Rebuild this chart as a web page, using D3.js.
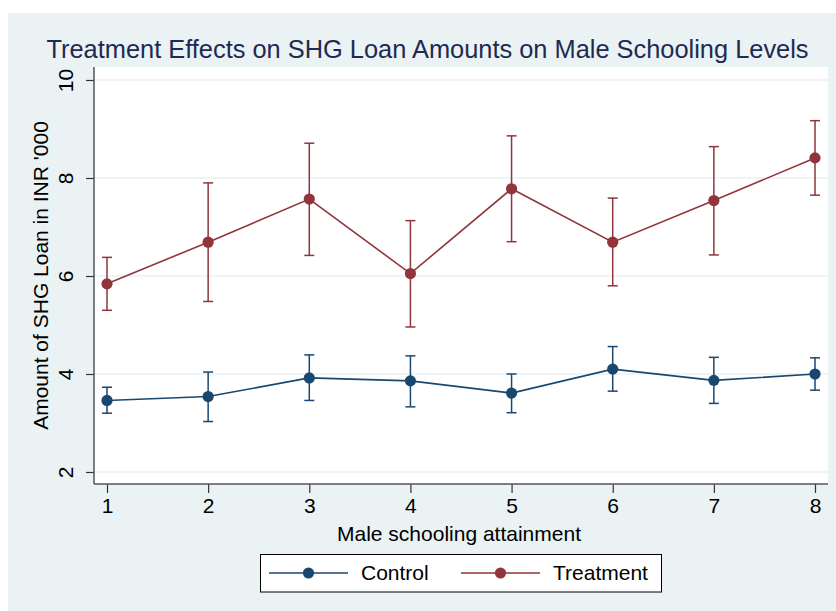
<!DOCTYPE html>
<html><head><meta charset="utf-8">
<script src="https://cdn.jsdelivr.net/npm/d3@7"></script>
<style>
html,body{margin:0;padding:0;background:#fff;}
svg text{font-family:"Liberation Sans",Arial,sans-serif;}
</style></head>
<body>
<svg id="chart" width="836" height="611"></svg>
<script>
const schooling = [1,2,3,4,5,6,7,8];
const controlMean = [3.46,3.54,3.92,3.86,3.61,4.10,3.87,4.00];
const controlLow  = [3.20,3.03,3.46,3.33,3.21,3.65,3.40,3.67];
const controlHigh = [3.73,4.04,4.39,4.37,4.00,4.56,4.34,4.33];
const treatMean = [5.84,6.69,7.57,6.05,7.78,6.69,7.54,8.41];
const treatLow  = [5.30,5.48,6.42,4.96,6.70,5.80,6.43,7.65];
const treatHigh = [6.38,7.90,8.71,7.13,8.86,7.59,8.64,9.17];
const yTicks = [2,4,6,8,10];
const seriesNames = ["Control","Treatment"];
const seriesColors = ["#1a476f","#90353b"];

const svg = d3.select("#chart");
// graph region background
svg.append("rect").attr("x",8).attr("y",13).attr("width",828).attr("height",598).attr("fill","#eaf2f3");
// plot region
const plot = {l:94, r:828, t:67, b:484};
svg.append("rect").attr("x",plot.l).attr("y",plot.t).attr("width",plot.r-plot.l).attr("height",plot.b-plot.t).attr("fill","#fff");

const x = d3.scaleLinear().domain([1,8]).range([107,815]);
const y = d3.scaleLinear().domain([2,10]).range([472,80]);

// grid
svg.append("g").selectAll("line").data(yTicks).join("line")
  .attr("x1",plot.l).attr("x2",plot.r).attr("y1",d=>y(d)).attr("y2",d=>y(d))
  .attr("stroke","#eaf2f3").attr("stroke-width",1.5);

// title
svg.append("text").attr("x",(45+810)/2).attr("y",58).attr("text-anchor","middle")
  .attr("font-size",25.4).attr("fill","#1e2a52")
  .text("Treatment Effects on SHG Loan Amounts on Male Schooling Levels");

// y axis
const yAxis = svg.append("g").attr("transform",`translate(${plot.l},0)`)
  .call(d3.axisLeft(y).tickValues(yTicks).tickSize(8).tickPadding(0).tickFormat(d3.format("d")));
yAxis.select(".domain").remove();
yAxis.selectAll(".tick line").attr("stroke","#333").attr("stroke-width",1.2);
yAxis.selectAll(".tick text").remove();
yAxis.selectAll(".tick").append("text")
  .attr("transform","translate(-21,0) rotate(-90)")
  .attr("text-anchor","middle").attr("dy",0).attr("fill","#000")
  .attr("font-size",21).text(d=>d);
svg.append("line").attr("x1",plot.l).attr("x2",plot.l).attr("y1",plot.t).attr("y2",plot.b)
  .attr("stroke","#555").attr("stroke-width",1.5);

// x axis
const xAxis = svg.append("g").attr("transform",`translate(0,${plot.b})`)
  .call(d3.axisBottom(x).tickValues(schooling).tickSize(9).tickPadding(5).tickFormat(d3.format("d")));
xAxis.select(".domain").remove();
xAxis.selectAll(".tick line").attr("stroke","#333").attr("stroke-width",1.2);
xAxis.selectAll(".tick text").attr("font-size",21).attr("fill","#000")
  .attr("font-family","Liberation Sans, Arial, sans-serif");
svg.append("line").attr("x1",plot.l).attr("x2",plot.r).attr("y1",plot.b).attr("y2",plot.b)
  .attr("stroke","#555").attr("stroke-width",1.5);

// axis titles
svg.append("text").attr("x",459).attr("y",541).attr("text-anchor","middle")
  .attr("font-size",21).attr("fill","#000").text("Male schooling attainment");
svg.append("text").attr("transform",`translate(48,${(plot.t+plot.b)/2}) rotate(-90)`)
  .attr("text-anchor","middle").attr("font-size",21).attr("fill","#000")
  .text("Amount of SHG Loan in INR '000");

// series
const series = [
  {name:seriesNames[0], color:seriesColors[0], mean:controlMean, lo:controlLow, hi:controlHigh},
  {name:seriesNames[1], color:seriesColors[1], mean:treatMean, lo:treatLow, hi:treatHigh}
];
const line = d3.line().x(d=>x(d[0])).y(d=>y(d[1]));
series.forEach(s=>{
  const g = svg.append("g");
  const pts = schooling.map((v,i)=>({x:v, m:s.mean[i], lo:s.lo[i], hi:s.hi[i]}));
  g.selectAll("line.eb").data(pts).join("line").attr("class","eb")
    .attr("x1",d=>x(d.x)).attr("x2",d=>x(d.x)).attr("y1",d=>y(d.lo)).attr("y2",d=>y(d.hi))
    .attr("stroke",s.color).attr("stroke-width",1.5);
  ["lo","hi"].forEach(k=>{
    g.selectAll("line.cap"+k).data(pts).join("line").attr("class","cap"+k)
      .attr("x1",d=>x(d.x)-5).attr("x2",d=>x(d.x)+5).attr("y1",d=>y(d[k])).attr("y2",d=>y(d[k]))
      .attr("stroke",s.color).attr("stroke-width",1.5);
  });
  g.append("path").datum(pts.map(p=>[p.x,p.m])).attr("d",line)
    .attr("fill","none").attr("stroke",s.color).attr("stroke-width",1.6);
  g.selectAll("circle").data(pts).join("circle")
    .attr("cx",d=>x(d.x)).attr("cy",d=>y(d.m)).attr("r",5.6).attr("fill",s.color);
});

// legend
const leg = svg.append("g");
leg.append("rect").attr("x",260.5).attr("y",554.5).attr("width",401).attr("height",37.5)
  .attr("fill","#fff").attr("stroke","#000").attr("stroke-width",1);
const legItems = [{x0:269, tx:361}, {x0:461, tx:553}];
series.forEach((s,i)=>{
  const it = legItems[i];
  leg.append("line").attr("x1",it.x0).attr("x2",it.x0+79).attr("y1",573).attr("y2",573)
    .attr("stroke",s.color).attr("stroke-width",1.6);
  leg.append("circle").attr("cx",it.x0+39.5).attr("cy",573).attr("r",5.6).attr("fill",s.color);
  leg.append("text").attr("x",it.tx).attr("y",580).attr("font-size",21).attr("fill","#000").text(s.name);
});
</script>
</body></html>
